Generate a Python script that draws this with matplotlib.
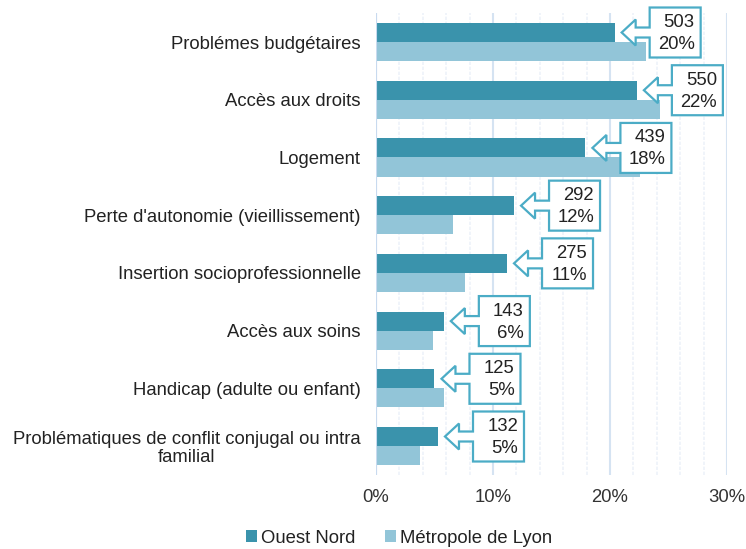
import matplotlib
matplotlib.use("Agg")
import matplotlib.pyplot as plt
import matplotlib.transforms as mtransforms
from matplotlib.patches import Polygon, Patch
import numpy as np

categories = [
    "Problémes budgétaires",
    "Accès aux droits",
    "Logement",
    "Perte d'autonomie (vieillissement)",
    "Insertion socioprofessionnelle",
    "Accès aux soins",
    "Handicap (adulte ou enfant)",
    "Problématiques de conflit conjugal ou intra\nfamilial",
]
ouest_nord_pct = [20.4, 22.3, 17.9, 11.8, 11.2, 5.8, 5.0, 5.3]
metropole_pct = [23.1, 24.3, 22.6, 6.6, 7.6, 4.9, 5.8, 3.8]
ouest_nord_count = [503, 550, 439, 292, 275, 143, 125, 132]
ouest_nord_label = ["20%", "22%", "18%", "12%", "11%", "6%", "5%", "5%"]
series_names = ["Ouest Nord", "Métropole de Lyon"]
xticks = [0, 10, 20, 30]
xtick_labels = ["0%", "10%", "20%", "30%"]

plt.rcParams['font.family'] = ['Liberation Sans', 'DejaVu Sans']
FS = 13.3
DPI = 100
fig = plt.figure(figsize=(7.46, 5.49), dpi=DPI)
ax = fig.add_axes([0.504, 0.135, 0.4705, 0.841])

dark = "#3a93ac"
light = "#92c5d8"
edge = "#4bacc6"

y = np.arange(len(categories))
h = 0.33
ax.barh(y - h / 2, ouest_nord_pct, height=h, color=dark, zorder=3)
ax.barh(y + h / 2, metropole_pct, height=h, color=light, zorder=3)

ax.set_xlim(0, 30)
ax.set_ylim(len(categories) - 0.5, -0.5)
ax.set_xticks(xticks)
ax.set_xticklabels(xtick_labels, fontsize=FS, color="#333333")
ax.set_xticks(np.arange(0, 31, 2), minor=True)
ax.set_yticks(y)
ax.set_yticklabels(categories, fontsize=FS, color="#222222", linespacing=1.1,
                   multialignment="center")
ax.tick_params(axis="both", length=0)
ax.tick_params(axis="x", pad=10)
ax.tick_params(axis="x", which="minor", length=0)
ax.tick_params(axis="y", pad=11)
for s in ax.spines.values():
    s.set_visible(False)
ax.grid(axis="x", which="minor", color="#edf2f9", linewidth=1.2, linestyle=(0, (2, 1)), zorder=0)
ax.grid(axis="x", which="major", color="#d5e3f2", linewidth=1.5, zorder=1)
ax.axvline(0, color="#c8daef", linewidth=1.5, zorder=4)

# callouts (vertices in pixels relative to bar end / dark bar center)
verts_px = [(7, 0), (21, 13), (21, 5), (35, 5), (35, 25), (86, 25), (86, -25),
            (35, -25), (35, -5), (21, -5), (21, -13)]
verts_in = [(vx / DPI, vy / DPI) for vx, vy in verts_px]
for i in range(len(categories)):
    xd = ouest_nord_pct[i]
    yd = y[i] - h / 2
    tr = fig.dpi_scale_trans + mtransforms.ScaledTranslation(xd, yd, ax.transData)
    poly = Polygon(verts_in, closed=True, facecolor="white", edgecolor=edge,
                   linewidth=1.6, transform=tr, zorder=6, clip_on=False)
    ax.add_patch(poly)
    ax.text(80 / DPI, 10 / DPI, str(ouest_nord_count[i]), transform=tr, ha="right",
            va="center", fontsize=FS, color="#222222", zorder=7)
    ax.text(80 / DPI, -12 / DPI, ouest_nord_label[i], transform=tr, ha="right",
            va="center", fontsize=FS, color="#222222", zorder=7)

handles = [Patch(facecolor=dark), Patch(facecolor=light)]
fig.legend(handles, series_names, loc="center", bbox_to_anchor=(0.535, 0.02),
           ncol=2, frameon=False, fontsize=FS, handlelength=0.6, handleheight=0.6,
           handletextpad=0.2, columnspacing=1.6, labelcolor="#222222")

fig.savefig("out.png", dpi=DPI)
